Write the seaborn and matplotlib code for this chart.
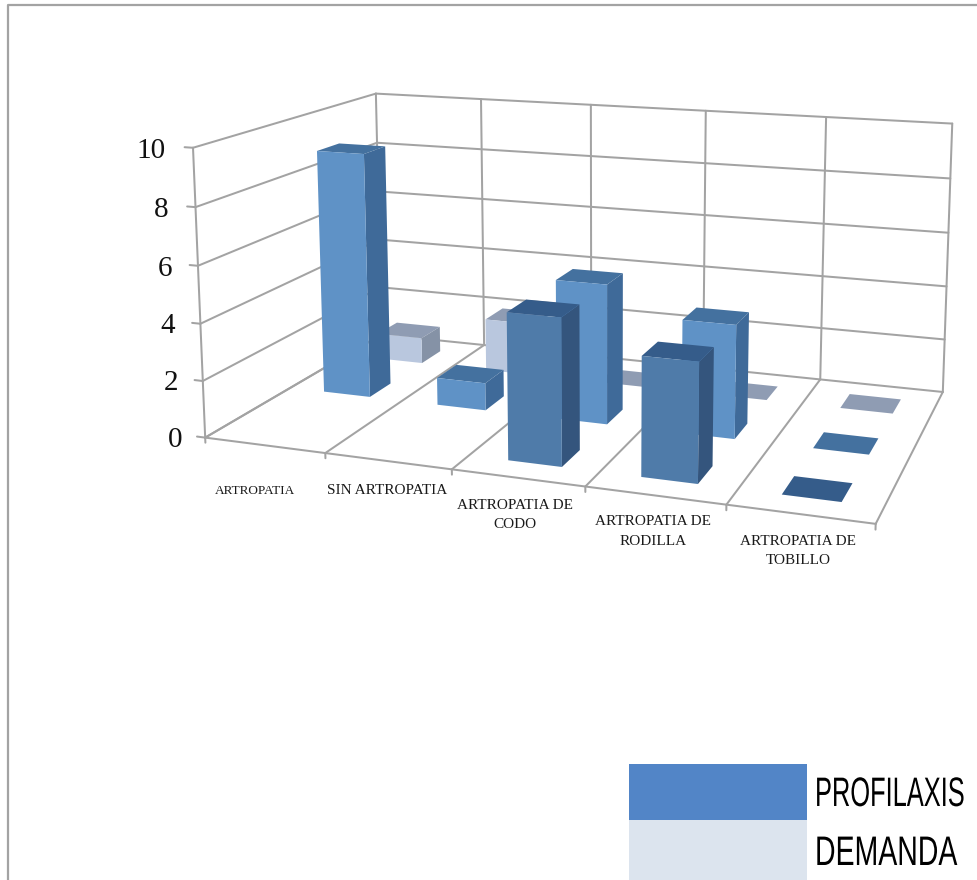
import numpy as np
import matplotlib
matplotlib.use("Agg")
import matplotlib.pyplot as plt
import matplotlib.patheffects as pe
from matplotlib.lines import Line2D
from matplotlib.patches import Rectangle
from matplotlib.transforms import Affine2D
import seaborn as sns

# Chart data: one list per depth row, None where no bar is drawn
categories = ["ARTROPATIA", "SIN ARTROPATIA", "ARTROPATIA DE\nCODO",
              "ARTROPATIA DE\nRODILLA", "ARTROPATIA DE\nTOBILLO"]
front_row = [None, None, 5, 4, 0]
middle_row = [9, 1, 5, 4, 0]
back_row = [1, 2, 0, 0, 0]
z_ticks = [0, 2, 4, 6, 8, 10]
legend_names = ["PROFILAXIS", "DEMANDA"]

# Face colours per row: front, side, top
front_colors = sns.color_palette(["#4f7ba9", "#34557d", "#355c8a"])
middle_colors = sns.color_palette(["#5f92c6", "#3f6a99", "#44719f"])
back_colors = sns.color_palette(["#b9c7de", "#8592a6", "#8f9cb3"])
legend_colors = sns.color_palette(["#5285c7", "#dce4ee"])
GRID = "#a3a3a3"
SERIF = "Liberation Serif"

W, H = 977, 880
BAR_W, BAR_D = 0.41, 0.38
BAR_SHIFT = 0.01

# Reference points of the oblique view: (x, y, z) -> pixel position
frame_xyz = np.array([
    (0, 0, 0), (1, 0, 0), (2, 0, 0), (3, 0, 0), (4, 0, 0), (5, 0, 0),
    (0, 3, 0), (1, 3, 0), (4, 3, 0), (5, 3, 0),
    (0, 0, 10), (0, 3, 10), (1, 3, 10), (5, 3, 10),
    (0, 0, 4), (0, 3, 4), (5, 3, 4),
], float)
frame_px = np.array([
    (207.5, 436.5), (326.7, 452.7), (452.7, 469), (585, 487), (726, 506), (875, 525),
    (378, 335), (485, 345), (820.7, 378), (943, 393),
    (190, 147.5), (378, 94), (483, 100), (951, 123),
    (200, 323), (378, 240), (947, 285),
], float)


def solve_camera(xyz, px):
    """Direct linear fit of a 3x4 projective camera."""
    rows = []
    for (x, y, z), (u, v) in zip(xyz, px):
        p = [x, y, z, 1]
        rows.append(p + [0, 0, 0, 0] + [-u * c for c in p])
        rows.append([0, 0, 0, 0] + p + [-v * c for c in p])
    cam = np.linalg.svd(np.array(rows))[2][-1].reshape(3, 4)
    if cam[2, 3] < 0:
        cam = -cam
    return cam / cam[2, 3]


camera = solve_camera(frame_xyz, frame_px)


def to_pixels(x, y, z):
    u, v, w = camera @ np.array([x, y, z, 1.0])
    return u / w, v / w


sns.set_theme(style="white")
plt.rcParams["font.family"] = [SERIF, "DejaVu Serif"]

fig = plt.figure(figsize=(W / 100, H / 100), dpi=100, facecolor="white")
ax = fig.add_axes([0, 0, 1, 1], projection="3d", computed_zorder=False)
ax.set_axis_off()


def pinned_proj():
    # Camera pixels (y down) -> display (y up) -> the axes' 2D data space
    to_display = np.array([[1, 0, 0], [0, -1, H], [0, 0, 1]], float)
    to_data = ax.transData.inverted().get_matrix()
    m = to_data @ to_display @ camera
    return np.array([m[0], m[1], [0, 0, 0, -1], m[2]])


ax.get_proj = pinned_proj
ax.apply_aspect = lambda position=None: None


def grid_line(xs, ys, zs):
    ax.plot(xs, ys, zs, color=GRID, lw=1.45, zorder=1, solid_capstyle="round")


def sheet_text(px, py, text, **kwargs):
    return fig.text(px / W, 1 - py / H, text, **kwargs)


# Floor
for x in range(6):
    grid_line([x, x], [0, 3], [0, 0])
    grid_line([x, x], [0, 0], [0, -0.18])
grid_line([0, 5], [0, 0], [0, 0])
# Back wall and side wall
for x in range(6):
    grid_line([x, x], [3, 3], [0, 10])
for z in z_ticks:
    grid_line([0, 5], [3, 3], [z, z])
    grid_line([0, 0], [0, 3], [z, z])
    grid_line([-0.07, 0], [0, 0], [z, z])
    px, py = to_pixels(-0.2, 0, z)
    sheet_text(px - 0.4 * z, py + 5, str(z), ha="right", va="center", fontsize=21,
               color="#111111")
grid_line([0, 0], [0, 0], [0, 10])


def add_bar(col, row, value, colors, order):
    # bar3d face order: bottom, top, -y, +y, -x, +x; hidden faces stay clear
    front, side, top = colors
    clear = (0, 0, 0, 0)
    faces = [clear, top, front, clear, clear, side]
    bar = ax.bar3d(col + (1 - BAR_W) / 2 + BAR_SHIFT, row + (1 - BAR_D) / 2, 0,
                   BAR_W, BAR_D, value, color=faces, shade=False,
                   edgecolor="none", linewidth=0)
    bar.set_zorder(order)


rows = [(2, back_row, back_colors), (1, middle_row, middle_colors), (0, front_row, front_colors)]
order = 2
for row, values, colors in rows:
    for col, value in enumerate(values):
        if value is not None:
            add_bar(col, row, value, colors, order)
            order += 1

# Category labels under the front edge
label_sizes = [9.5, 11, 11, 11, 11]
label_dx = [-9, -1, -3, -2, -2]
label_dy = [46, 29, 37, 36, 37]
for i, name in enumerate(categories):
    px, py = to_pixels(i + 0.5, 0, 0)
    sheet_text(px + label_dx[i], py + label_dy[i], name, ha="center", va="center",
               fontsize=label_sizes[i], color="#1a1a1a", linespacing=1.65)

# Sheet outline, open towards the bottom and right
fig.add_artist(Line2D([8 / W, 8 / W, 1], [0, 1 - 5 / H, 1 - 5 / H], color="#a3a3a3", lw=1.6))


class TallText(pe.AbstractPathEffect):
    """Draw text taller about its baseline, as in a condensed setting."""

    def __init__(self, factor):
        super().__init__()
        self.factor = factor

    def draw_path(self, renderer, gc, tpath, affine, rgbFace=None):
        y0 = affine.get_matrix()[1, 2]
        stretch = Affine2D().translate(0, -y0).scale(1, self.factor).translate(0, y0)
        renderer.draw_path(gc, tpath, affine + stretch, rgbFace)


# Legend swatches, running off the foot of the sheet
swatch_tops = [764, 820]
swatch_bottoms = [820, 880]
legend_baselines = [806, 865]
legend_sizes = [18.3, 20.5]
legend_stretch = [1.62, 1.45]
for name, color, top, bottom, base, size, stretch in zip(
        legend_names, legend_colors, swatch_tops, swatch_bottoms,
        legend_baselines, legend_sizes, legend_stretch):
    fig.add_artist(Rectangle((629 / W, 1 - bottom / H), 178 / W, (bottom - top) / H,
                             transform=fig.transFigure, facecolor=color, edgecolor="none"))
    sheet_text(815, base, name, ha="left", va="baseline", fontsize=size,
               family=["Liberation Sans"], color="black",
               path_effects=[TallText(stretch)])

fig.savefig("out.png", dpi=100, facecolor="white")
